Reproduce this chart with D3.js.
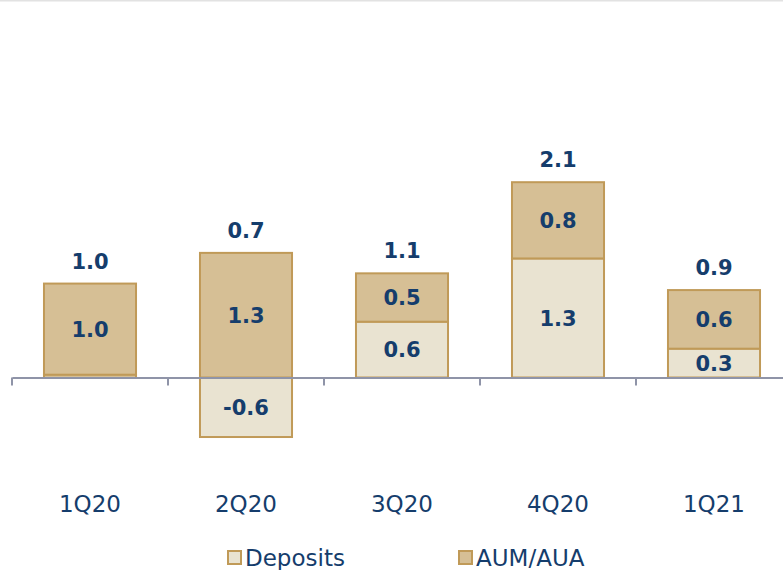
<!DOCTYPE html>
<html>
<head>
<meta charset="utf-8">
<script src="https://cdn.jsdelivr.net/npm/d3@7"></script>
<style>
  body { margin: 0; background: #fff; }
  svg { display: block; font-family: 'DejaVu Sans', sans-serif; }
</style>
</head>
<body>
<svg id="chart" width="783" height="570"></svg>
<script>
// chart values
const quarters = ['1Q20', '2Q20', '3Q20', '4Q20', '1Q21']
const deposits = [0.03, -0.64, 0.60, 1.28, 0.31]
const aumAua = [0.98, 1.34, 0.52, 0.82, 0.63]
const totalLabels = ['1.0', '0.7', '1.1', '2.1', '0.9']
const depositLabels = ['', '-0.6', '0.6', '1.3', '0.3']
const aumLabels = ['1.0', '1.3', '0.5', '0.8', '0.6']
const seriesNames = ['Deposits', 'AUM/AUA']

const navy = '#153d6c'
const gold = '#c09a58'
const fills = { Deposits: '#e9e3d1', 'AUM/AUA': '#d6bf95' }

const svg = d3.select('#chart')

// thin grey line at the very top
svg.append('rect')
  .attr('x', 0).attr('y', 0)
  .attr('width', 783).attr('height', 1.5)
  .attr('fill', '#e2e2e2')

const xScale = d3.scaleBand()
  .domain(quarters)
  .range([12, 12 + 156 * quarters.length])
  .paddingInner(0.41)
  .paddingOuter(0.205)

const yScale = d3.scaleLinear()
  .domain([-1, 2.5])
  .range([470.5, 145])

// build the stacked segments
const segments = []
quarters.forEach((q, i) => {
  // deposits sit on the baseline, positive or negative
  segments.push({ q, series: 'Deposits', y0: 0, y1: deposits[i], label: depositLabels[i] })
  const a0 = Math.max(0, deposits[i])
  segments.push({ q, series: 'AUM/AUA', y0: a0, y1: a0 + aumAua[i], label: aumLabels[i] })
})

const bars = svg.append('g')
bars.selectAll('rect')
  .data(segments)
  .enter()
  .append('rect')
  .attr('x', d => xScale(d.q))
  .attr('width', xScale.bandwidth())
  .attr('y', d => yScale(Math.max(d.y0, d.y1)))
  .attr('height', d => Math.abs(yScale(d.y0) - yScale(d.y1)))
  .attr('fill', d => fills[d.series])
  .attr('stroke', gold)
  .attr('stroke-width', 2)

// segment labels
bars.selectAll('text.seg')
  .data(segments.filter(d => d.label !== ''))
  .enter()
  .append('text')
  .attr('class', 'seg')
  .attr('x', d => xScale(d.q) + xScale.bandwidth() / 2)
  .attr('y', d => yScale((d.y0 + d.y1) / 2))
  .attr('dy', '0.36em')
  .attr('text-anchor', 'middle')
  .attr('font-size', 21)
  .attr('font-weight', 'bold')
  .attr('fill', navy)
  .text(d => d.label)

// totals above bars
bars.selectAll('text.total')
  .data(quarters)
  .enter()
  .append('text')
  .attr('class', 'total')
  .attr('x', d => xScale(d) + xScale.bandwidth() / 2)
  .attr('y', (d, i) => yScale(Math.max(0, deposits[i]) + aumAua[i]) - 15)
  .attr('text-anchor', 'middle')
  .attr('font-size', 21)
  .attr('font-weight', 'bold')
  .attr('fill', navy)
  .text((d, i) => totalLabels[i])

// x axis at zero
const xAxis = d3.axisBottom(xScale)
  .tickSize(0)
  .tickPadding(0)
  .tickFormat('')
const axisG = svg.append('g')
  .attr('transform', `translate(0, ${yScale(0)})`)
  .call(xAxis)
axisG.select('.domain')
  .attr('stroke', '#8f94a8')
  .attr('stroke-width', 2)
// tick marks on band boundaries
axisG.selectAll('line.sep')
  .data(d3.range(quarters.length + 1))
  .enter()
  .append('line')
  .attr('class', 'sep')
  .attr('x1', i => 12 + i * xScale.step())
  .attr('x2', i => 12 + i * xScale.step())
  .attr('y1', 0)
  .attr('y2', 8)
  .attr('stroke', '#8f94a8')
  .attr('stroke-width', 2)

// category labels
svg.append('g')
  .selectAll('text')
  .data(quarters)
  .enter()
  .append('text')
  .attr('x', d => xScale(d) + xScale.bandwidth() / 2)
  .attr('y', 512)
  .attr('text-anchor', 'middle')
  .attr('font-size', 23)
  .attr('fill', navy)
  .text(d => d)

// legend
const legendX = [227, 458]
const legend = svg.append('g')
  .selectAll('g')
  .data(seriesNames)
  .enter()
  .append('g')
  .attr('transform', (d, i) => `translate(${legendX[i]}, 550)`)
legend.append('rect')
  .attr('x', 1).attr('y', 1)
  .attr('width', 13).attr('height', 13)
  .attr('fill', d => fills[d])
  .attr('stroke', gold)
  .attr('stroke-width', 2)
legend.append('text')
  .attr('x', 18)
  .attr('y', 16)
  .attr('font-size', 23)
  .attr('fill', navy)
  .text(d => d)
</script>
</body>
</html>
